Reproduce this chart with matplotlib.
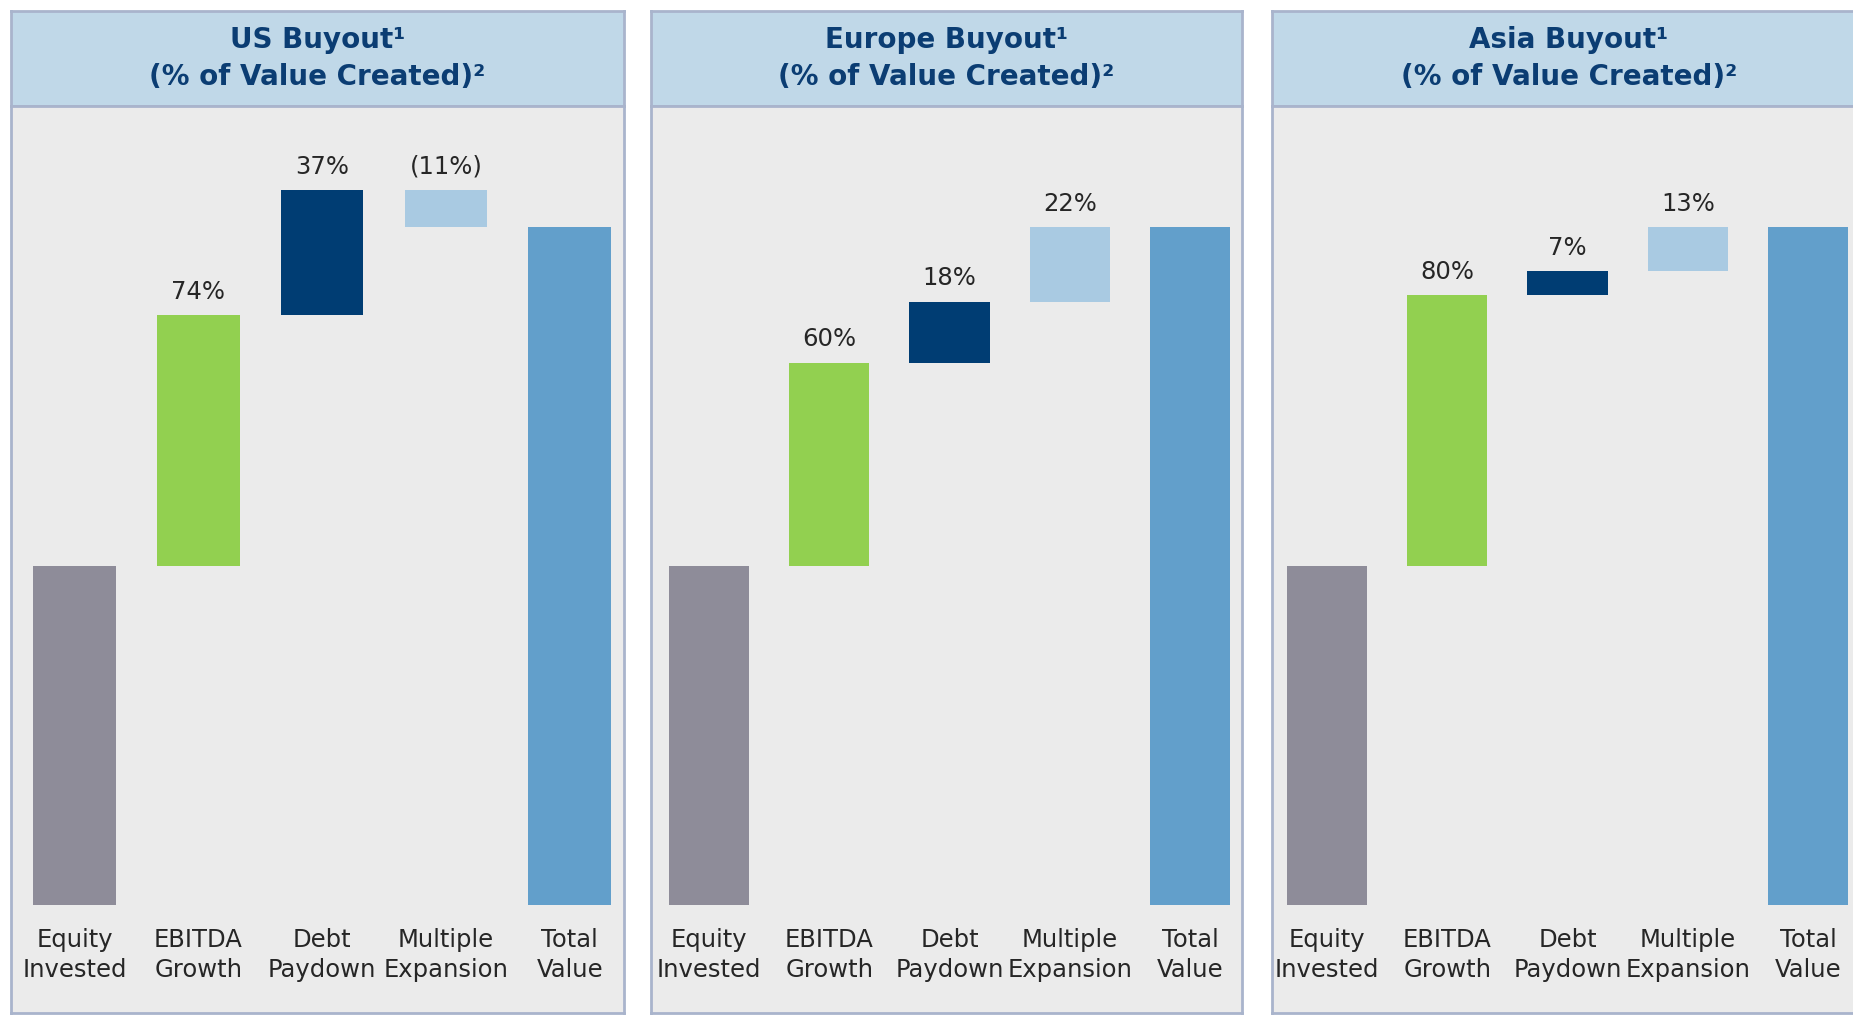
import matplotlib.pyplot as plt

plt.rcParams['font.family'] = ['DejaVu Sans']

categories = ["Equity\nInvested", "EBITDA\nGrowth", "Debt\nPaydown", "Multiple\nExpansion", "Total\nValue"]
regions = ["US Buyout\u00b9", "Europe Buyout\u00b9", "Asia Buyout\u00b9"]
equity_invested = 100
us_steps = [74, 37, -11]
europe_steps = [60, 18, 22]
asia_steps = [80, 7, 13]
all_steps = [us_steps, europe_steps, asia_steps]

bar_colors = ["#8e8c99", "#92d050", "#003d73", "#a9cae2", "#629fcb"]
border = "#a9b4cc"
header_bg = "#c0d8e8"
body_bg = "#ebebeb"
title_color = "#0b3d73"
text_color = "#262626"

W, H = 1853, 1016
fig = plt.figure(figsize=(W / 100, H / 100), dpi=100)
fig.patch.set_facecolor("white")

# panel layout in pixels: left, right, first bar centre, bar spacing
panels = [(11, 624, 74.5, 123.8), (651, 1242, 709, 120.3), (1272, 1866, 1327, 120.3)]
head_top, head_bot, body_bot = 11, 106, 1013
base_px, unit_px = 905, 3.39  # y pixel of value 0, pixels per 1%


def fx(px):
    return px / W


def fy(py):
    return 1 - py / H


for (left, right, x0, dx), title, steps in zip(panels, regions, all_steps):
    # header box
    hax = fig.add_axes([fx(left), fy(head_bot), fx(right - left), (head_bot - head_top) / H])
    hax.set_facecolor(header_bg)
    hax.set_xticks([])
    hax.set_yticks([])
    for s in hax.spines.values():
        s.set_color(border)
        s.set_linewidth(2)
    hax.text(0.5, 0.5, title + "\n(% of Value Created)\u00b2", transform=hax.transAxes,
             ha="center", va="center", fontsize=20, fontweight="bold", color=title_color,
             linespacing=1.42)

    # body with waterfall bars
    ax = fig.add_axes([fx(left), fy(body_bot), fx(right - left), (body_bot - head_bot) / H])
    ax.set_facecolor(body_bg)
    ax.set_xlim((left - x0) / dx, (right - x0) / dx)
    ax.set_ylim(-(body_bot - base_px) / unit_px, (base_px - head_bot) / unit_px)
    ax.set_xticks([])
    ax.set_yticks([])
    for s in ax.spines.values():
        s.set_color(border)
        s.set_linewidth(2)

    total = equity_invested + sum(steps)
    bottoms = [0]
    heights = [equity_invested]
    run = equity_invested
    for v in steps:
        bottoms.append(run)
        heights.append(v)
        run += v
    bottoms.append(0)
    heights.append(total)

    xs = list(range(len(categories)))
    ax.bar(xs, heights, bottom=bottoms, width=0.668, color=bar_colors)

    for i, v in enumerate(steps, start=1):
        top = max(bottoms[i], bottoms[i] + heights[i])
        label = f"{v}%" if v >= 0 else f"({-v}%)"
        ax.annotate(label, (i, top), xytext=(0, 8), textcoords="offset points",
                    ha="center", va="bottom", fontsize=17.5, color=text_color)

    for i, c in enumerate(categories):
        ax.text(i, -(955 - base_px) / unit_px, c, ha="center", va="center",
                fontsize=17.5, color=text_color, linespacing=1.35)

fig.savefig("out.png", dpi=100)
